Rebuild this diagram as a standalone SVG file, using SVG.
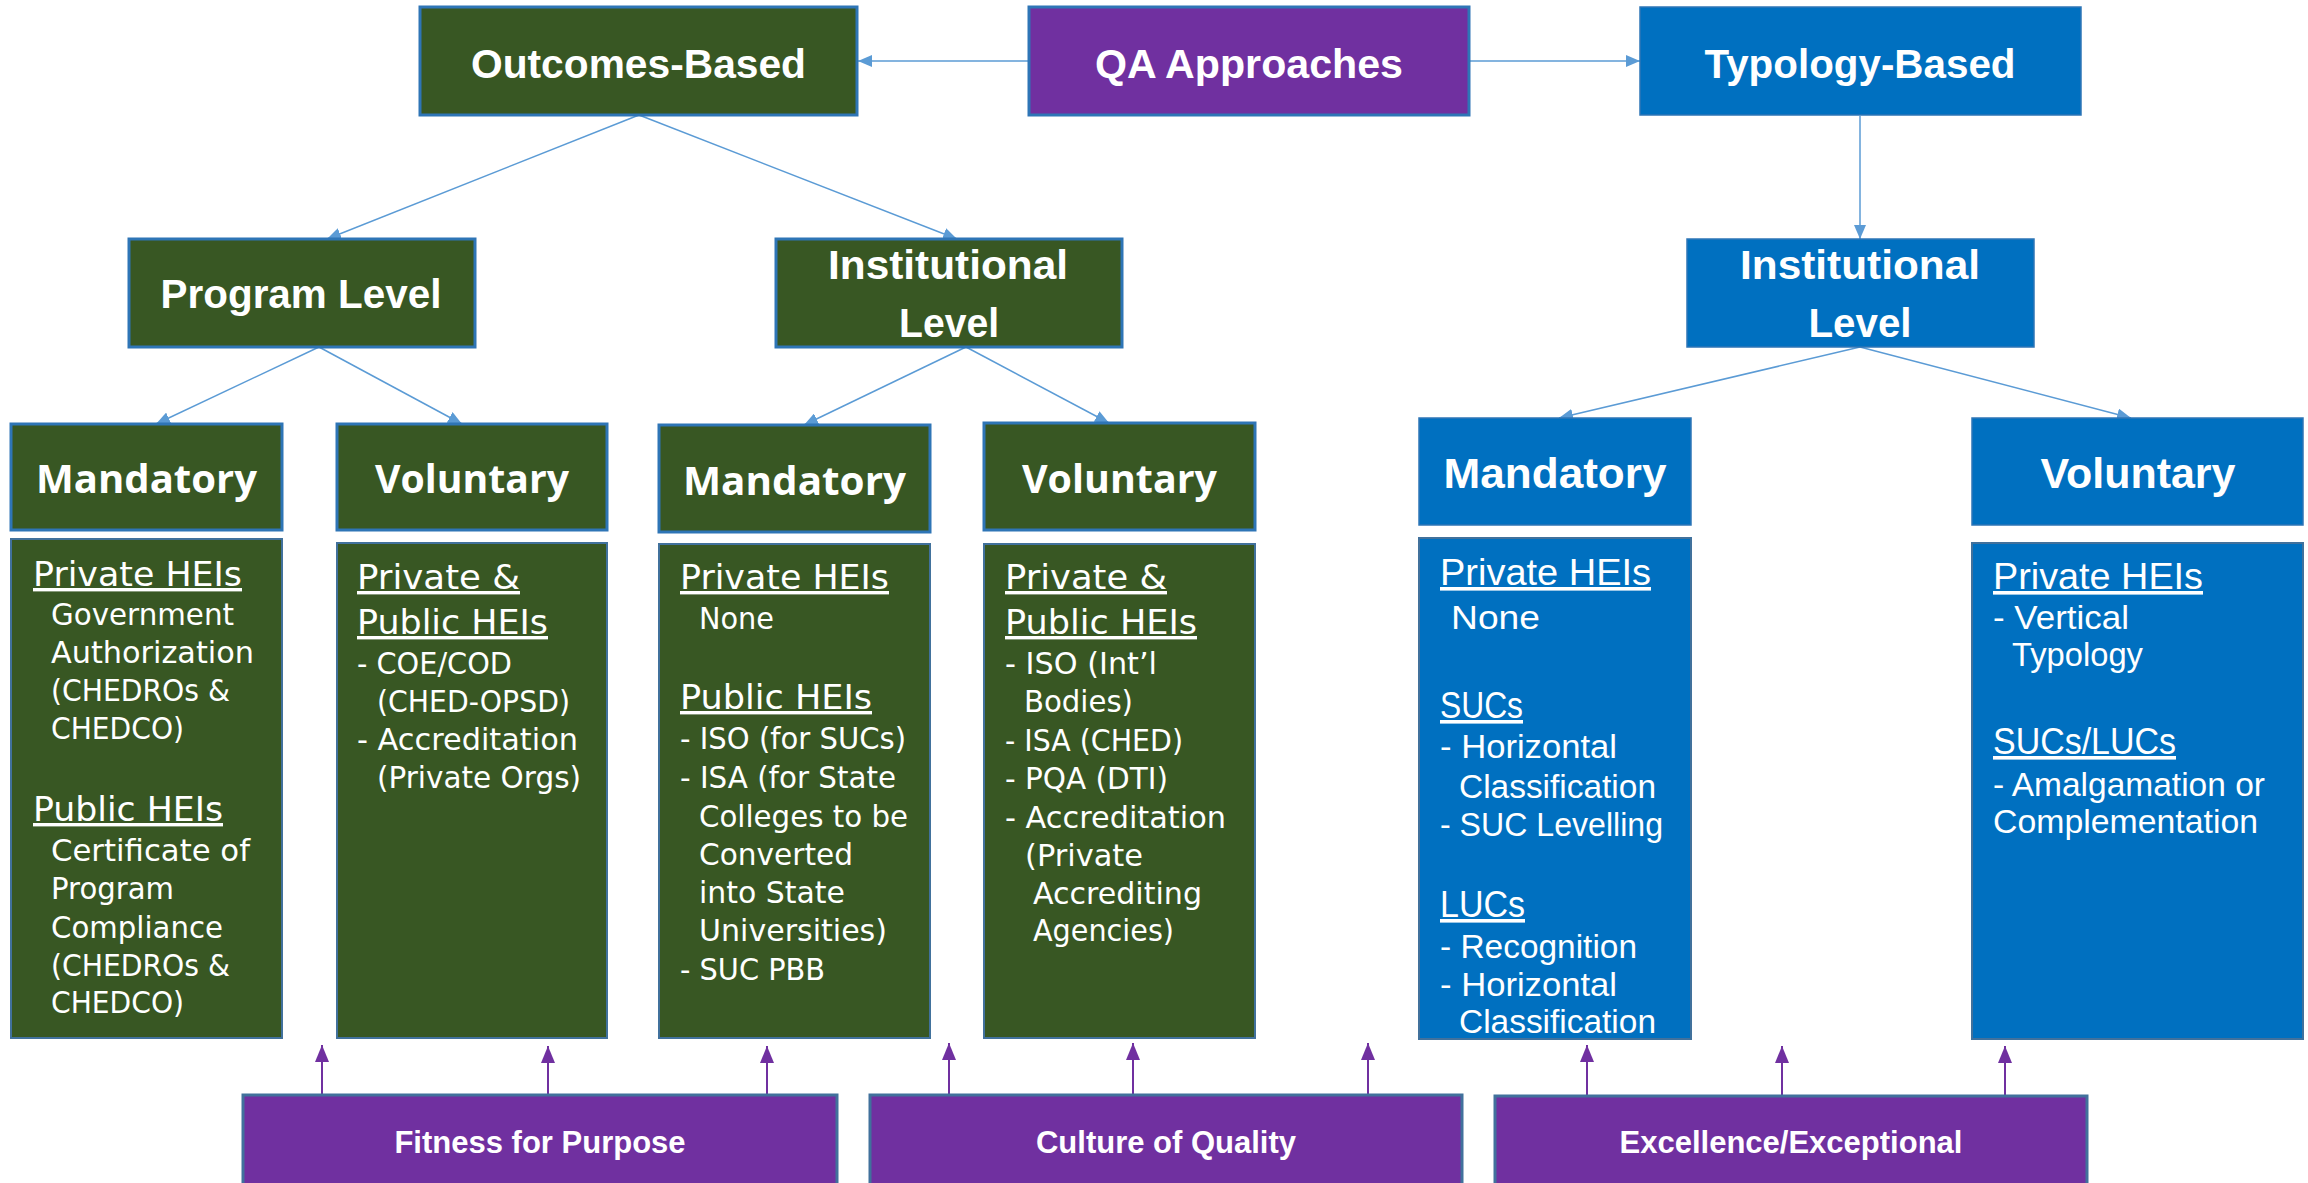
<svg xmlns="http://www.w3.org/2000/svg" width="2308" height="1183" viewBox="0 0 2308 1183">
<defs>
<style>
.g{fill:#385723;stroke:#2E75B6;stroke-width:3}
.gc{fill:#385723;stroke:#41719C;stroke-width:2}
.b{fill:#0070C0;stroke:#2E75B6;stroke-width:1.5}
.bc{fill:#0070C0;stroke:#41719C;stroke-width:2}
.p{fill:#7030A0;stroke:#2E75B6;stroke-width:3}
.pb{fill:#7030A0;stroke:#41719C;stroke-width:3}
.t1{font-family:"Liberation Sans",Arial,sans-serif;font-weight:bold;font-size:41px;fill:#fff;text-anchor:middle}
.t3{font-family:"Liberation Sans",Arial,sans-serif;font-weight:bold;font-size:31px;fill:#fff;text-anchor:middle}
.gh{font-family:"Open Sans","DejaVu Sans",sans-serif;font-weight:bold;font-size:39px;fill:#fff;text-anchor:middle}
.bh{font-family:"Liberation Sans",Arial,sans-serif;font-weight:bold;font-size:42px;fill:#fff;text-anchor:middle}
.gu{font-family:"DejaVu Sans",Verdana,sans-serif;font-size:34px;fill:#fff;text-decoration:underline;text-decoration-thickness:3px}
.gi{font-family:"DejaVu Sans",Verdana,sans-serif;font-size:30px;fill:#fff}
.bu{font-family:"Liberation Sans",Arial,sans-serif;font-size:36px;fill:#fff;text-decoration:underline;text-decoration-thickness:3px}
.bi{font-family:"Liberation Sans",Arial,sans-serif;font-size:32.5px;fill:#fff}
.cb{stroke:#5B9BD5;stroke-width:1.5;fill:none}
.cp{stroke:#7030A0;stroke-width:2;fill:none}
</style>
<marker id="ab" markerUnits="userSpaceOnUse" markerWidth="14" markerHeight="12" refX="14" refY="6" orient="auto"><path d="M0,0 L14,6 L0,12 z" fill="#5B9BD5"/></marker>
<marker id="ap" markerUnits="userSpaceOnUse" markerWidth="17" markerHeight="14" refX="17" refY="7" orient="auto"><path d="M0,0 L17,7 L0,14 z" fill="#7030A0"/></marker>
</defs>
<rect width="2308" height="1183" fill="#fff"/>

<g id="connectors">
<line class="cb" x1="1029" y1="61" x2="858" y2="61" marker-end="url(#ab)"/>
<line class="cb" x1="1469" y1="61" x2="1640" y2="61" marker-end="url(#ab)"/>
<line class="cb" x1="639" y1="115" x2="327" y2="239" marker-end="url(#ab)"/>
<line class="cb" x1="639" y1="115" x2="957" y2="239" marker-end="url(#ab)"/>
<line class="cb" x1="1860" y1="116" x2="1860" y2="239" marker-end="url(#ab)"/>
<line class="cb" x1="319" y1="347" x2="156" y2="424" marker-end="url(#ab)"/>
<line class="cb" x1="319" y1="347" x2="462" y2="424" marker-end="url(#ab)"/>
<line class="cb" x1="966" y1="347" x2="804" y2="425" marker-end="url(#ab)"/>
<line class="cb" x1="966" y1="347" x2="1109" y2="423" marker-end="url(#ab)"/>
<line class="cb" x1="1860" y1="347" x2="1559" y2="418" marker-end="url(#ab)"/>
<line class="cb" x1="1860" y1="347" x2="2131" y2="418" marker-end="url(#ab)"/>
<line class="cp" x1="322" y1="1095" x2="322" y2="1045" marker-end="url(#ap)"/>
<line class="cp" x1="548" y1="1095" x2="548" y2="1046" marker-end="url(#ap)"/>
<line class="cp" x1="767" y1="1095" x2="767" y2="1046" marker-end="url(#ap)"/>
<line class="cp" x1="949" y1="1095" x2="949" y2="1043" marker-end="url(#ap)"/>
<line class="cp" x1="1133" y1="1095" x2="1133" y2="1043" marker-end="url(#ap)"/>
<line class="cp" x1="1368" y1="1095" x2="1368" y2="1043" marker-end="url(#ap)"/>
<line class="cp" x1="1587" y1="1096" x2="1587" y2="1045" marker-end="url(#ap)"/>
<line class="cp" x1="1782" y1="1096" x2="1782" y2="1046" marker-end="url(#ap)"/>
<line class="cp" x1="2005" y1="1096" x2="2005" y2="1046" marker-end="url(#ap)"/>
</g>

<g id="outcomes-based">
<rect class="g" x="420" y="7" width="437" height="108"/>
<text class="t1" x="638.5" y="78" textLength="335" lengthAdjust="spacingAndGlyphs">Outcomes-Based</text>
</g>
<g id="qa-approaches">
<rect class="p" x="1029" y="7" width="440" height="108"/>
<text class="t1" x="1249" y="78" textLength="308" lengthAdjust="spacingAndGlyphs">QA Approaches</text>
</g>
<g id="typology-based">
<rect class="b" x="1640" y="7" width="441" height="108"/>
<text class="t1" x="1860" y="78" textLength="311" lengthAdjust="spacingAndGlyphs">Typology-Based</text>
</g>

<g id="program-level">
<rect class="g" x="129" y="239" width="346" height="108"/>
<text class="t1" x="301" y="308" textLength="281" lengthAdjust="spacingAndGlyphs">Program Level</text>
</g>
<g id="institutional-level-ob">
<rect class="g" x="776" y="239" width="346" height="108"/>
<text class="t1" x="948" y="279" textLength="240" lengthAdjust="spacingAndGlyphs">Institutional</text>
<text class="t1" x="949" y="337" textLength="100" lengthAdjust="spacingAndGlyphs">Level</text>
</g>
<g id="institutional-level-tb">
<rect class="b" x="1687" y="239" width="347" height="108"/>
<text class="t1" x="1860" y="279" textLength="240" lengthAdjust="spacingAndGlyphs">Institutional</text>
<text class="t1" x="1860" y="337" textLength="103" lengthAdjust="spacingAndGlyphs">Level</text>
</g>

<g id="pl-mandatory">
<rect class="g" x="11" y="424" width="271" height="106"/>
<text class="gh" x="146.5" y="493" textLength="221" lengthAdjust="spacingAndGlyphs">Mandatory</text>
</g>
<g id="pl-voluntary">
<rect class="g" x="337" y="424" width="270" height="106"/>
<text class="gh" x="472" y="493" textLength="194" lengthAdjust="spacingAndGlyphs">Voluntary</text>
</g>
<g id="il-mandatory">
<rect class="g" x="659" y="425" width="271" height="107"/>
<text class="gh" x="794.5" y="495" textLength="223" lengthAdjust="spacingAndGlyphs">Mandatory</text>
</g>
<g id="il-voluntary">
<rect class="g" x="984" y="423" width="271" height="107"/>
<text class="gh" x="1119.5" y="493" textLength="195" lengthAdjust="spacingAndGlyphs">Voluntary</text>
</g>
<g id="tb-mandatory">
<rect class="b" x="1419" y="418" width="272" height="107"/>
<text class="bh" x="1555" y="488" textLength="223" lengthAdjust="spacingAndGlyphs">Mandatory</text>
</g>
<g id="tb-voluntary">
<rect class="b" x="1972" y="418" width="331" height="107"/>
<text class="bh" x="2138" y="488" textLength="195" lengthAdjust="spacingAndGlyphs">Voluntary</text>
</g>

<g id="pl-mandatory-detail">
<rect class="gc" x="11" y="539" width="271" height="499"/>
<text class="gu" x="33" y="586" textLength="209" lengthAdjust="spacingAndGlyphs">Private HEIs</text>
<text class="gi" x="51" y="625" textLength="183" lengthAdjust="spacingAndGlyphs">Government</text>
<text class="gi" x="51" y="663" textLength="203" lengthAdjust="spacingAndGlyphs">Authorization</text>
<text class="gi" x="51" y="701" textLength="179" lengthAdjust="spacingAndGlyphs">(CHEDROs &amp;</text>
<text class="gi" x="51" y="739" textLength="133" lengthAdjust="spacingAndGlyphs">CHEDCO)</text>
<text class="gu" x="33" y="821" textLength="190" lengthAdjust="spacingAndGlyphs">Public HEIs</text>
<text class="gi" x="51" y="861" textLength="199" lengthAdjust="spacingAndGlyphs">Certificate of</text>
<text class="gi" x="51" y="899" textLength="123" lengthAdjust="spacingAndGlyphs">Program</text>
<text class="gi" x="51" y="938" textLength="172" lengthAdjust="spacingAndGlyphs">Compliance</text>
<text class="gi" x="51" y="976" textLength="179" lengthAdjust="spacingAndGlyphs">(CHEDROs &amp;</text>
<text class="gi" x="51" y="1013" textLength="133" lengthAdjust="spacingAndGlyphs">CHEDCO)</text>
</g>
<g id="pl-voluntary-detail">
<rect class="gc" x="337" y="543" width="270" height="495"/>
<text class="gu" x="357" y="589" textLength="163" lengthAdjust="spacingAndGlyphs">Private &amp;</text>
<text class="gu" x="357" y="634" textLength="191" lengthAdjust="spacingAndGlyphs">Public HEIs</text>
<text class="gi" x="357" y="674" textLength="155" lengthAdjust="spacingAndGlyphs">- COE/COD</text>
<text class="gi" x="377" y="712" textLength="193" lengthAdjust="spacingAndGlyphs">(CHED-OPSD)</text>
<text class="gi" x="357" y="750" textLength="221" lengthAdjust="spacingAndGlyphs">- Accreditation</text>
<text class="gi" x="377" y="788" textLength="204" lengthAdjust="spacingAndGlyphs">(Private Orgs)</text>
</g>
<g id="il-mandatory-detail">
<rect class="gc" x="659" y="544" width="271" height="494"/>
<text class="gu" x="680" y="589" textLength="209" lengthAdjust="spacingAndGlyphs">Private HEIs</text>
<text class="gi" x="699" y="629" textLength="75" lengthAdjust="spacingAndGlyphs">None</text>
<text class="gu" x="680" y="709" textLength="192" lengthAdjust="spacingAndGlyphs">Public HEIs</text>
<text class="gi" x="680" y="749" textLength="226" lengthAdjust="spacingAndGlyphs">- ISO (for SUCs)</text>
<text class="gi" x="680" y="788" textLength="216" lengthAdjust="spacingAndGlyphs">- ISA (for State</text>
<text class="gi" x="699" y="827" textLength="209" lengthAdjust="spacingAndGlyphs">Colleges to be</text>
<text class="gi" x="699" y="865" textLength="154" lengthAdjust="spacingAndGlyphs">Converted</text>
<text class="gi" x="699" y="903" textLength="146" lengthAdjust="spacingAndGlyphs">into State</text>
<text class="gi" x="699" y="941" textLength="188" lengthAdjust="spacingAndGlyphs">Universities)</text>
<text class="gi" x="680" y="980" textLength="145" lengthAdjust="spacingAndGlyphs">- SUC PBB</text>
</g>
<g id="il-voluntary-detail">
<rect class="gc" x="984" y="544" width="271" height="494"/>
<text class="gu" x="1005" y="589" textLength="162" lengthAdjust="spacingAndGlyphs">Private &amp;</text>
<text class="gu" x="1005" y="634" textLength="192" lengthAdjust="spacingAndGlyphs">Public HEIs</text>
<text class="gi" x="1005" y="674" textLength="152" lengthAdjust="spacingAndGlyphs">- ISO (Int’l</text>
<text class="gi" x="1024" y="712" textLength="109" lengthAdjust="spacingAndGlyphs">Bodies)</text>
<text class="gi" x="1005" y="751" textLength="178" lengthAdjust="spacingAndGlyphs">- ISA (CHED)</text>
<text class="gi" x="1005" y="789" textLength="163" lengthAdjust="spacingAndGlyphs">- PQA (DTI)</text>
<text class="gi" x="1005" y="828" textLength="221" lengthAdjust="spacingAndGlyphs">- Accreditation</text>
<text class="gi" x="1025" y="866" textLength="118" lengthAdjust="spacingAndGlyphs">(Private</text>
<text class="gi" x="1033" y="904" textLength="169" lengthAdjust="spacingAndGlyphs">Accrediting</text>
<text class="gi" x="1033" y="941" textLength="141" lengthAdjust="spacingAndGlyphs">Agencies)</text>
</g>
<g id="tb-mandatory-detail">
<rect class="bc" x="1419" y="538" width="272" height="501"/>
<text class="bu" x="1440" y="585" textLength="211" lengthAdjust="spacingAndGlyphs">Private HEIs</text>
<text class="bi" x="1451" y="629" font-size="37" textLength="89" lengthAdjust="spacingAndGlyphs">None</text>
<text class="bu" x="1440" y="718" textLength="83" lengthAdjust="spacingAndGlyphs">SUCs</text>
<text class="bi" x="1440" y="758" textLength="177" lengthAdjust="spacingAndGlyphs">- Horizontal</text>
<text class="bi" x="1459" y="798" textLength="197" lengthAdjust="spacingAndGlyphs">Classification</text>
<text class="bi" x="1440" y="836" textLength="223" lengthAdjust="spacingAndGlyphs">- SUC Levelling</text>
<text class="bu" x="1440" y="917" textLength="85" lengthAdjust="spacingAndGlyphs">LUCs</text>
<text class="bi" x="1440" y="958" textLength="197" lengthAdjust="spacingAndGlyphs">- Recognition</text>
<text class="bi" x="1440" y="996" textLength="177" lengthAdjust="spacingAndGlyphs">- Horizontal</text>
<text class="bi" x="1459" y="1033" textLength="197" lengthAdjust="spacingAndGlyphs">Classification</text>
</g>
<g id="tb-voluntary-detail">
<rect class="bc" x="1972" y="543" width="331" height="496"/>
<text class="bu" x="1993" y="589" textLength="210" lengthAdjust="spacingAndGlyphs">Private HEIs</text>
<text class="bi" x="1993" y="629" textLength="136" lengthAdjust="spacingAndGlyphs">- Vertical</text>
<text class="bi" x="2012" y="666" textLength="131" lengthAdjust="spacingAndGlyphs">Typology</text>
<text class="bu" x="1993" y="754" textLength="183" lengthAdjust="spacingAndGlyphs">SUCs/LUCs</text>
<text class="bi" x="1993" y="796" textLength="272" lengthAdjust="spacingAndGlyphs">- Amalgamation or</text>
<text class="bi" x="1993" y="833" textLength="265" lengthAdjust="spacingAndGlyphs">Complementation</text>
</g>

<g id="fitness-for-purpose">
<rect class="pb" x="243" y="1095" width="594" height="100"/>
<text class="t3" x="540" y="1153">Fitness for Purpose</text>
</g>
<g id="culture-of-quality">
<rect class="pb" x="870" y="1095" width="592" height="100"/>
<text class="t3" x="1166" y="1153">Culture of Quality</text>
</g>
<g id="excellence-exceptional">
<rect class="pb" x="1495" y="1096" width="592" height="100"/>
<text class="t3" x="1791" y="1153">Excellence/Exceptional</text>
</g>
</svg>
